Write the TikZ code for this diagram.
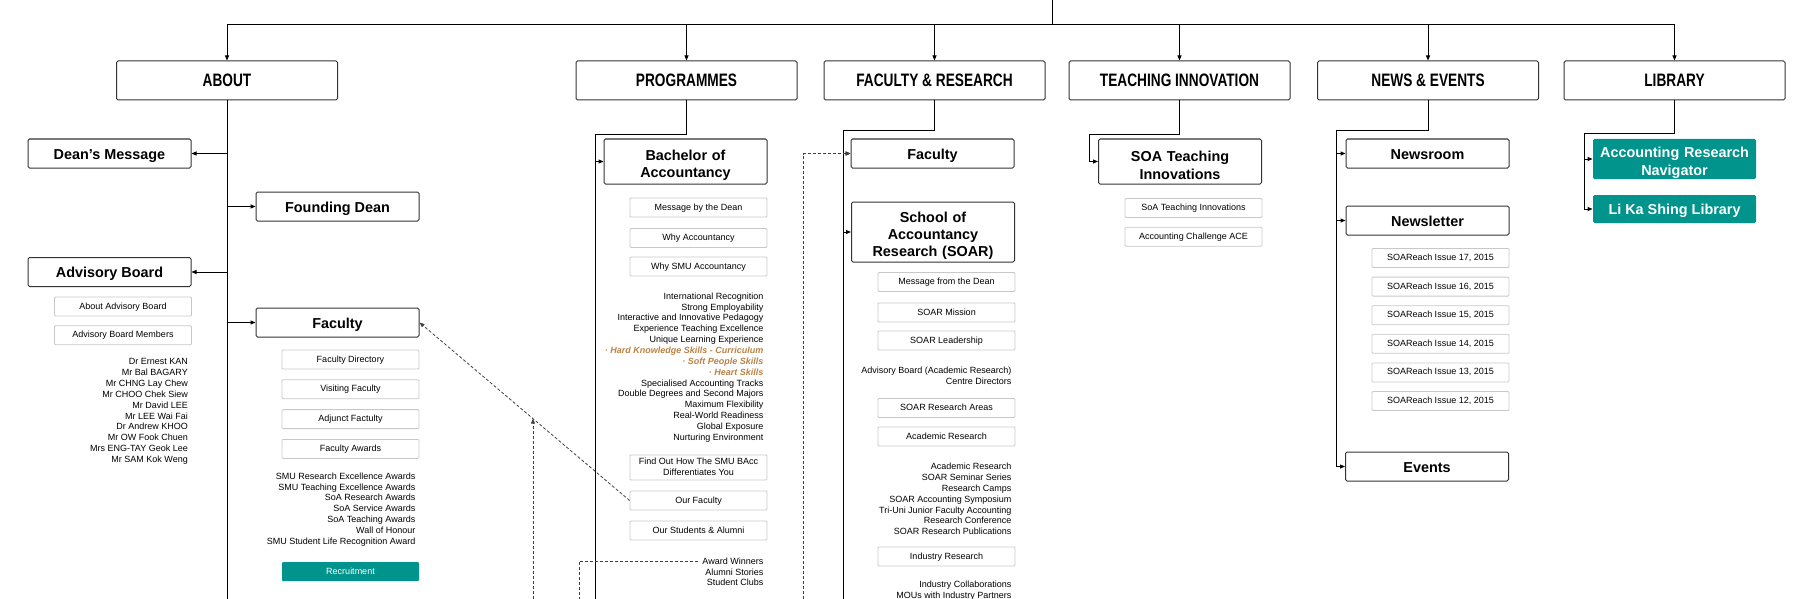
\documentclass[tikz,border=0pt]{standalone}
\usepackage{fontspec}
\setmainfont{Liberation Sans}
\newfontfamily\headfont[FakeStretch=0.76]{Liberation Sans}
\usepackage{xcolor}
\usetikzlibrary{arrows.meta,positioning,calc}
\definecolor{smuteal}{RGB}{0,148,141}
\definecolor{skillorange}{RGB}{186,130,68}
\definecolor{boxgrey}{RGB}{200,200,200}
\newcommand{\skilltxt}[1]{\textcolor{skillorange}{\bfseries\itshape #1}}

\begin{document}
\begin{tikzpicture}[
  x=1pt, y=-1pt,
  head/.style={draw=black!80, line width=1pt, rounded corners=1.5pt, minimum width=221pt, minimum height=39pt, font=\headfont\bfseries\fontsize{18}{20}\selectfont},
  sect/.style={draw=black!80, line width=1pt, rounded corners=1.5pt, minimum width=163pt, minimum height=29pt, align=center, inner sep=1pt, font=\bfseries\fontsize{14.4}{17.3}\selectfont, execute at begin node={\rule[-3.5pt]{0pt}{18pt}}},
  tall/.style={text width=156pt, execute at begin node={\rule[-3.5pt]{0pt}{21.5pt}}},
  pagebox/.style={draw=boxgrey, line width=0.8pt, rounded corners=1pt, minimum width=137pt, minimum height=19pt, align=center, inner sep=1pt, font=\fontsize{9}{10.5}\selectfont, execute at begin node={\rule[-2pt]{0pt}{9pt}}},
  link/.style={fill=smuteal, draw=none, text=white},
  list/.style={anchor=north east, align=right, inner sep=0pt, font=\fontsize{9}{10.85}\selectfont},
  trunk/.style={line width=1pt},
  arr/.style={-{Triangle[length=5pt,width=4pt]}, line width=1pt},
  dashln/.style={dash pattern=on 3pt off 2pt, line width=0.8pt, black!75},
  dasharr/.style={dashln, -{Triangle[length=5pt,width=4pt]}}
]
\useasboundingbox (0,0) rectangle (1814,599);

\node[head] (about) at (227,80.5) {ABOUT};
\node[head] (prog) at (686.5,80.5) {PROGRAMMES};
\node[head] (facres) at (934.5,80.5) {FACULTY \& RESEARCH};
\node[head] (teach) at (1179.5,80.5) {TEACHING INNOVATION};
\node[head] (news) at (1428,80.5) {NEWS \& EVENTS};
\node[head] (lib) at (1674.5,80.5) {LIBRARY};
\coordinate (root) at (1052,0);
\coordinate (rail) at (1052,25);
\draw[trunk] (root) -- (rail);
\draw[trunk] (about.north |- rail) -- (lib.north |- rail);
\foreach \h in {about,prog,facres,teach,news,lib}
  \draw[arr] (\h.north |- rail) -- (\h.north);

\coordinate (aboutEnd) at (227,599);
\draw[trunk] (about.south) -- (aboutEnd);
\node[sect] (dean) at (109.5,153.5) {Dean’s Message};
\node[sect] (founder) at (337.5,206.5) {Founding Dean};
\node[sect] (advboard) at (109.5,272) {Advisory Board};
\node[sect] (aboutfac) at (337.5,322.5) {Faculty};
\foreach \n in {dean,advboard}
  \draw[arr] (about.south |- \n) -- (\n.east);
\foreach \n in {founder,aboutfac}
  \draw[arr] (about.south |- \n) -- (\n.west);
\node[pagebox] (aboutadv) at (123,306.5) {About Advisory Board};
\node[pagebox, below=9pt of aboutadv] (advmembers) {Advisory Board Members};
\node[list] (members) at (188,358.5) {Dr Ernest KAN\\Mr Bal BAGARY\\Mr CHNG Lay Chew\\Mr CHOO Chek Siew\\Mr David LEE\\Mr LEE Wai Fai\\Dr Andrew KHOO\\Mr OW Fook Chuen\\Mrs ENG-TAY Geok Lee\\Mr SAM Kok Weng};
\node[pagebox] (facdir) at (350.5,359.5) {Faculty Directory};
\node[pagebox, below=10pt of facdir] (visiting) {Visiting Faculty};
\node[pagebox, below=10pt of visiting] (adjunct) {Adjunct Factulty};
\node[pagebox, below=10pt of adjunct] (awards) {Faculty Awards};
\node[list] (awardList) at (415.5,472.5) {SMU Research Excellence Awards\\SMU Teaching Excellence Awards\\SoA Research Awards\\SoA Service Awards\\SoA Teaching Awards\\Wall of Honour\\SMU Student Life Recognition Award};
\node[pagebox, link] (recruit) at (350.5,571.5) {Recruitment};

\coordinate (progTurn) at (595,135);
\coordinate (progEnd) at (595,599);
\draw[trunk] (prog.south) |- (progTurn) -- (progEnd);
\node[sect, tall, minimum height=45pt] (bacc) at (685.5,161.5) {Bachelor of\\Accountancy};
\draw[arr] (progTurn |- bacc) -- (bacc.west);
\node[pagebox] (byDean) at (698.5,207.5) {Message by the Dean};
\node[pagebox] (whyAcc) at (698.5,238) {Why Accountancy};
\node[pagebox] (whySMU) at (698.5,266.5) {Why SMU Accountancy};
\node[list] (baccList) at (763.5,292.5) {International Recognition\\Strong Employability\\Interactive and Innovative Pedagogy\\Experience Teaching Excellence\\Unique Learning Experience\\\skilltxt{· Hard Knowledge Skills - Curriculum}\\\skilltxt{· Soft People Skills}\\\skilltxt{· Heart Skills}\\Specialised Accounting Tracks\\Double Degrees and Second Majors\\Maximum Flexibility\\Real-World Readiness\\Global Exposure\\Nurturing Environment};
\node[pagebox, minimum height=25pt] (findout) at (698.5,467.5) {Find Out How The SMU BAcc\\Differentiates You};
\node[pagebox] (ourfac) at (698.5,500.5) {Our Faculty};
\node[pagebox] (ourstud) at (698.5,530.5) {Our Students \& Alumni};
\node[list] (alumList) at (763.5,557.5) {Award Winners\\Alumni Stories\\Student Clubs};

\draw[dasharr] (ourfac.west) -- coordinate[pos=0.46] (meet) (aboutfac.east);
\draw[dasharr] (meet |- progEnd) -- (meet);
\coordinate (alumDash) at ([xshift=-4.5pt,yshift=-3.5pt]alumList.north west);
\coordinate (alumEnd) at (579,599);
\draw[dashln] (alumDash) -| (alumEnd);

\coordinate (frTurn) at (843,131);
\coordinate (frEnd) at (843,599);
\draw[trunk] (facres.south) |- (frTurn) -- (frEnd);
\node[sect] (frfac) at (932.5,153.5) {Faculty};
\node[sect, tall, minimum height=60pt] (soar) at (933,232) {School of\\Accountancy\\Research (SOAR)};
\foreach \n in {frfac,soar}
  \draw[arr] (frTurn |- \n) -- (\n.west);
\coordinate (frDashEnd) at (803.5,599);
\draw[dasharr] (frDashEnd) |- (frfac.west);
\node[pagebox] (fromDean) at (946.5,282) {Message from the Dean};
\node[pagebox] (mission) at (946.5,312.5) {SOAR Mission};
\node[pagebox] (leader) at (946.5,340.5) {SOAR Leadership};
\node[list] (boardList) at (1011.5,366.5) {Advisory Board (Academic Research)\\Centre Directors};
\node[pagebox] (areas) at (946.5,408) {SOAR Research Areas};
\node[pagebox] (academic) at (946.5,436.5) {Academic Research};
\node[list] (academicList) at (1011.5,463) {Academic Research\\SOAR Seminar Series\\Research Camps\\SOAR Accounting Symposium\\Tri-Uni Junior Faculty Accounting\\Research Conference\\SOAR Research Publications};
\node[pagebox] (industry) at (946.5,556.5) {Industry Research};
\node[list] (industryList) at (1011.5,580.5) {Industry Collaborations\\MOUs with Industry Partners};

\coordinate (tiTurn) at (1089,135);
\node[sect, tall, minimum height=45pt] (soati) at (1180,161.5) {SOA Teaching\\Innovations};
\draw[arr] (teach.south) |- (tiTurn) |- (soati.west);
\node[pagebox] (tiPage) at (1193.5,208) {SoA Teaching Innovations};
\node[pagebox, below=9pt of tiPage] (ace) {Accounting Challenge ACE};

\coordinate (neTurn) at (1336,131);
\node[sect] (newsroom) at (1427.5,153.5) {Newsroom};
\node[sect] (newsletter) at (1427.5,220.5) {Newsletter};
\node[sect] (events) at (1427,466.5) {Events};
\draw[arr] (news.south) |- (neTurn) |- (events.west);
\foreach \n in {newsroom,newsletter}
  \draw[arr] (neTurn |- \n) -- (\n.west);
\foreach \i [count=\k from 0] in {17,16,...,12}
  \node[pagebox] (reach\i) at (1440.5,{258+28.6*\k}) {SOAReach Issue \i, 2015};

\coordinate (libTurn) at (1584,134);
\node[sect, tall, link, minimum height=40pt] (arn) at (1674.5,159) {Accounting Research\\Navigator};
\node[sect, link, minimum height=28pt] (lks) at (1674.5,209) {Li Ka Shing Library};
\draw[arr] (lib.south) |- (libTurn) |- (lks.west);
\draw[arr] (libTurn |- arn) -- (arn.west);
\end{tikzpicture}
\end{document}
